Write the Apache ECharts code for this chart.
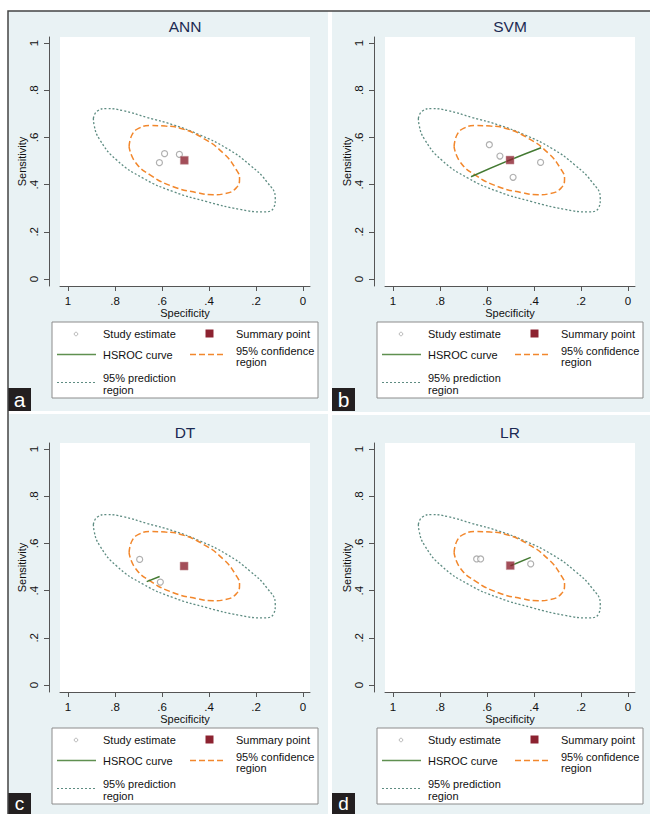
<!DOCTYPE html>
<html><head><meta charset="utf-8">
<script src="https://cdn.jsdelivr.net/npm/echarts@6/dist/echarts.min.js"></script>
<style>html,body{margin:0;padding:0;background:#fff}#c{width:650px;height:814px}</style>
</head><body><div id="c"></div>
<script>
// ---------------- data ----------------
const panelTitles = ['ANN', 'SVM', 'DT', 'LR'];
const panelLetters = ['a', 'b', 'c', 'd'];
const tickValues = [0, 0.2, 0.4, 0.6, 0.8, 1];
const tickLabels = ['0', '.2', '.4', '.6', '.8', '1'];
const legendNames = ['Study estimate', 'Summary point', 'HSROC curve', '95% confidence region', '95% prediction region'];

// [specificity, sensitivity]
const studyANN = [[0.589, 0.531], [0.526, 0.528], [0.611, 0.493]];
const studySVM = [[0.590, 0.569], [0.545, 0.521], [0.372, 0.494], [0.489, 0.431]];
const studyDT  = [[0.695, 0.532], [0.607, 0.436]];
const studyLR  = [[0.644, 0.534], [0.627, 0.534], [0.414, 0.513]];

const summaryANN = [[0.505, 0.503]];
const summarySVM = [[0.502, 0.504]];
const summaryDT  = [[0.506, 0.504]];
const summaryLR  = [[0.501, 0.506]];

const hsrocANN = [];
const hsrocSVM = [[0.668, 0.433], [0.502, 0.504], [0.370, 0.556]];
const hsrocDT  = [[0.665, 0.438], [0.610, 0.460]];
const hsrocLR  = [[0.500, 0.505], [0.414, 0.541]];

// 95% confidence region (same in all four panels)
const confRegion = [[0.740, 0.560], [0.728, 0.610], [0.700, 0.638], [0.650, 0.650], [0.585, 0.648],
  [0.523, 0.639], [0.424, 0.596], [0.339, 0.533], [0.285, 0.465], [0.270, 0.425], [0.285, 0.385],
  [0.330, 0.362], [0.382, 0.357], [0.452, 0.366], [0.552, 0.391], [0.651, 0.441], [0.715, 0.497],
  [0.740, 0.560]];
// 95% prediction region (same in all four panels)
const predRegion = [[0.892, 0.681], [0.875, 0.712], [0.835, 0.722], [0.765, 0.713], [0.665, 0.685],
  [0.552, 0.653], [0.438, 0.610], [0.325, 0.554], [0.226, 0.483], [0.154, 0.412], [0.118, 0.342],
  [0.126, 0.300], [0.169, 0.284], [0.268, 0.295], [0.410, 0.328], [0.552, 0.370], [0.680, 0.427],
  [0.793, 0.504], [0.864, 0.589], [0.889, 0.653], [0.892, 0.681]];

const studies = [studyANN, studySVM, studyDT, studyLR];
const summaries = [summaryANN, summarySVM, summaryDT, summaryLR];
const hsrocs = [hsrocANN, hsrocSVM, hsrocDT, hsrocLR];

// ---------------- layout / style ----------------
const FONT = '"Liberation Sans", Arial, sans-serif';
const offsets = [[0, 0], [325, 0], [0, 406], [325, 406]];
const panels = [
  {x: 8, y: 11, w: 320, h: 400},
  {x: 332, y: 11, w: 318, h: 401},
  {x: 8, y: 414, w: 320, h: 400},
  {x: 332, y: 415, w: 318, h: 399}
];
const C_STUDY = '#9c9c9c', C_SUM = '#8c2230', C_HS = '#447a33', C_CONF = '#f2872c', C_PRED = '#5e8c82';
const AXIS_C = '#555';

function fmtTick(v) {
  const r = Math.round(v * 10) / 10;
  const i = tickValues.findIndex(t => Math.abs(t - r) < 1e-6);
  return i >= 0 ? tickLabels[i] : '';
}

const grids = [], xAxes = [], yAxes = [], series = [], graphics = [];

offsets.forEach(([dx, dy], i) => {
  grids.push({left: 60 + dx, top: 37 + dy, width: 250, height: 249, show: true,
    backgroundColor: '#ffffff', borderWidth: 0, containLabel: false});
  xAxes.push({
    type: 'value', gridIndex: i, inverse: true, min: -0.0298, max: 1.034,
    splitLine: {show: false},
    axisLine: {show: true, onZero: false, lineStyle: {color: AXIS_C, width: 1}},
    axisTick: {show: true, length: 5, customValues: tickValues, lineStyle: {color: AXIS_C}},
    axisLabel: {customValues: tickValues, formatter: fmtTick, margin: 9, color: '#111',
      fontSize: 11.5, fontFamily: FONT},
    name: 'Specificity', nameLocation: 'middle', nameGap: 17,
    nameTextStyle: {color: '#111', fontSize: 11, fontFamily: FONT}
  });
  yAxes.push({
    type: 'value', gridIndex: i, min: -0.0297, max: 1.0254, offset: 11,
    splitLine: {show: false},
    axisLine: {show: true, onZero: false, lineStyle: {color: AXIS_C, width: 1}},
    axisTick: {show: true, length: 5, customValues: tickValues, lineStyle: {color: AXIS_C}},
    axisLabel: {customValues: tickValues, formatter: fmtTick, margin: 9, rotate: 90, color: '#111',
      fontSize: 11.5, fontFamily: FONT},
    name: 'Sensitivity', nameLocation: 'middle', nameGap: 18,
    nameTextStyle: {color: '#111', fontSize: 11, fontFamily: FONT}
  });

  series.push({name: '95% prediction region', type: 'line', xAxisIndex: i, yAxisIndex: i,
    data: predRegion, smooth: 0.5, showSymbol: false, silent: true,
    lineStyle: {color: C_PRED, width: 1.3, type: [2, 2]}, z: 2});
  series.push({name: '95% confidence region', type: 'line', xAxisIndex: i, yAxisIndex: i,
    data: confRegion, smooth: 0.5, showSymbol: false, silent: true,
    lineStyle: {color: C_CONF, width: 1.5, type: [6, 3]}, z: 3});
  if (hsrocs[i].length) {
    series.push({name: 'HSROC curve', type: 'line', xAxisIndex: i, yAxisIndex: i,
      data: hsrocs[i], smooth: true, showSymbol: false, silent: true,
      lineStyle: {color: C_HS, width: 1.5}, z: 4});
  }
  series.push({name: 'Study estimate', type: 'scatter', xAxisIndex: i, yAxisIndex: i,
    data: studies[i], symbol: 'circle', symbolSize: 6,
    itemStyle: {color: '#ffffff', borderColor: C_STUDY, borderWidth: 1.2}, z: 5});
  series.push({name: 'Summary point', type: 'scatter', xAxisIndex: i, yAxisIndex: i,
    data: summaries[i], symbol: 'rect', symbolSize: 8,
    itemStyle: {color: C_SUM, borderColor: '#c7959a', borderWidth: 0.6}, z: 6});

  // panel background
  const p = panels[i];
  graphics.push({type: 'rect', z: -100, shape: {x: p.x, y: p.y, width: p.w, height: p.h},
    style: {fill: '#e9f2f4'}, silent: true});
  // title
  graphics.push({type: 'text', z: 50, style: {text: panelTitles[i], x: 185 + dx, y: 26 + dy,
    align: 'center', verticalAlign: 'middle', font: '15.5px ' + FONT, fill: '#1c2a52'}});
  // legend
  const lf = '11px ' + FONT;
  graphics.push({type: 'rect', z: 50, shape: {x: 52 + dx, y: 322 + dy, width: 266, height: 76},
    style: {fill: '#ffffff', stroke: '#8c8c8c', lineWidth: 1}});
  graphics.push({type: 'circle', z: 51, shape: {cx: 76 + dx, cy: 334 + dy, r: 1.8},
    style: {fill: '#fff', stroke: '#aaaaaa', lineWidth: 0.8}});
  graphics.push({type: 'text', z: 51, style: {text: legendNames[0], x: 103 + dx, y: 334 + dy,
    verticalAlign: 'middle', font: lf, fill: '#111'}});
  graphics.push({type: 'rect', z: 51, shape: {x: 205.5 + dx, y: 329.5 + dy, width: 8, height: 8},
    style: {fill: C_SUM}});
  graphics.push({type: 'text', z: 51, style: {text: legendNames[1], x: 236 + dx, y: 334 + dy,
    verticalAlign: 'middle', font: lf, fill: '#111'}});
  graphics.push({type: 'line', z: 51, shape: {x1: 57 + dx, y1: 354.5 + dy, x2: 96 + dx, y2: 354.5 + dy},
    style: {stroke: '#5f9050', lineWidth: 1.5}});
  graphics.push({type: 'text', z: 51, style: {text: legendNames[2], x: 103 + dx, y: 355 + dy,
    verticalAlign: 'middle', font: lf, fill: '#111'}});
  graphics.push({type: 'line', z: 51, shape: {x1: 190 + dx, y1: 354.5 + dy, x2: 226 + dx, y2: 354.5 + dy},
    style: {stroke: C_CONF, lineWidth: 1.5, lineDash: [6, 3]}});
  graphics.push({type: 'text', z: 51, style: {text: '95% confidence', x: 236 + dx, y: 350.5 + dy,
    verticalAlign: 'middle', font: lf, fill: '#111'}});
  graphics.push({type: 'text', z: 51, style: {text: 'region', x: 236 + dx, y: 362 + dy,
    verticalAlign: 'middle', font: lf, fill: '#111'}});
  graphics.push({type: 'line', z: 51, shape: {x1: 57 + dx, y1: 382.5 + dy, x2: 96 + dx, y2: 382.5 + dy},
    style: {stroke: C_PRED, lineWidth: 1.2, lineDash: [2, 2]}});
  graphics.push({type: 'text', z: 51, style: {text: '95% prediction', x: 103 + dx, y: 378 + dy,
    verticalAlign: 'middle', font: lf, fill: '#111'}});
  graphics.push({type: 'text', z: 51, style: {text: 'region', x: 103 + dx, y: 389.5 + dy,
    verticalAlign: 'middle', font: lf, fill: '#111'}});
  // panel letter
  const ly = i < 2 ? 388 + dy : 793;
  const lh = i < 2 ? 23 : 21;
  graphics.push({type: 'rect', z: 60, shape: {x: p.x, y: ly, width: 23, height: lh},
    style: {fill: '#231f20'}});
  graphics.push({type: 'text', z: 61, style: {text: panelLetters[i], x: p.x + 11.5, y: ly + lh / 2 - 0.5,
    align: 'center', verticalAlign: 'middle', font: (i < 2 ? '21px ' : '19px ') + FONT, fill: '#ffffff'}});
});

// outer frame (left and top edges visible)
graphics.push({type: 'rect', z: 70, shape: {x: 8, y: 11, width: 700, height: 900},
  style: {fill: 'none', stroke: '#444', lineWidth: 1.5}, silent: true});

const chart = echarts.init(document.getElementById('c'), null, {renderer: 'svg'});
chart.setOption({
  animation: false,
  backgroundColor: '#ffffff',
  grid: grids,
  xAxis: xAxes,
  yAxis: yAxes,
  series: series,
  graphic: {elements: graphics}
});
</script>
</body></html>
